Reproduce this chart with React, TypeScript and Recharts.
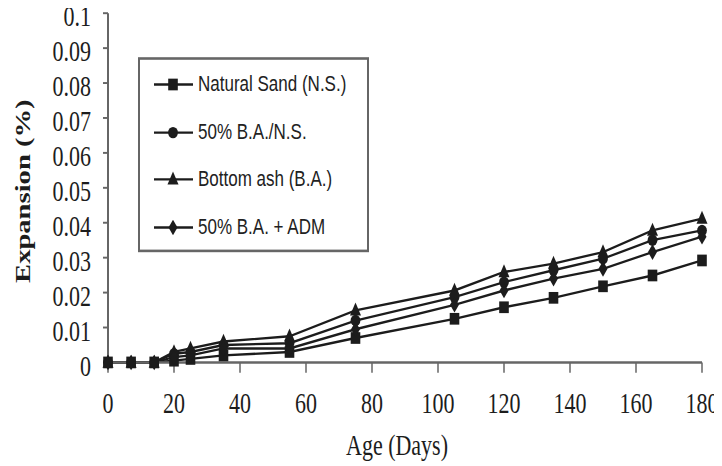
import React from 'react';
import { LineChart, Line, XAxis, YAxis, Legend, Label } from 'recharts';

// Age (days) at which expansion was measured
const days = [0, 7, 14, 20, 25, 35, 55, 75, 105, 120, 135, 150, 165, 180];
// Expansion (%) per series
const naturalSand = [0, 0, 0, 0.0005, 0.001, 0.002, 0.003, 0.007, 0.0125, 0.0158, 0.0185, 0.0218, 0.0249, 0.0292];
const baNs = [0, 0, 0, 0.0025, 0.003, 0.005, 0.0055, 0.012, 0.0187, 0.023, 0.0264, 0.0297, 0.035, 0.0378];
const bottomAsh = [0, 0, 0, 0.003, 0.004, 0.006, 0.0075, 0.0149, 0.0206, 0.0259, 0.0283, 0.0316, 0.0378, 0.0412];
const baAdm = [0, 0, 0, 0.0015, 0.002, 0.004, 0.004, 0.0095, 0.0165, 0.0206, 0.024, 0.0268, 0.0316, 0.036];

const xTicks = [0, 20, 40, 60, 80, 100, 120, 140, 160, 180];
const yTicks = [0, 0.01, 0.02, 0.03, 0.04, 0.05, 0.06, 0.07, 0.08, 0.09, 0.1];

const seriesKeys = ['ns', 'bans', 'ba', 'adm'];
const seriesNames = ['Natural Sand (N.S.)', '50% B.A./N.S.', 'Bottom ash (B.A.)', '50% B.A. + ADM'];
const seriesMarkers = ['square', 'circle', 'triangle', 'diamond'];

const data = days.map((d, i) => ({
  day: d,
  ns: naturalSand[i],
  bans: baNs[i],
  ba: bottomAsh[i],
  adm: baAdm[i],
}));

const STRETCH = 1.3;
const W = 714;
const H = 358.5;
const INK = '#1c1c1c';
const AXIS = '#666';

function Marker({ kind, cx, cy }: { kind: string; cx: number; cy: number }) {
  if (cx == null || cy == null || isNaN(cx) || isNaN(cy)) return null;
  if (kind === 'square') {
    return <rect x={cx - 4.8} y={cy - 4.5} width={9.6} height={9} fill={INK} />;
  }
  if (kind === 'circle') {
    return <ellipse cx={cx} cy={cy} rx={4.9} ry={4.4} fill={INK} />;
  }
  if (kind === 'triangle') {
    return <polygon points={`${cx},${cy - 6} ${cx + 5.5},${cy + 4} ${cx - 5.5},${cy + 4}`} fill={INK} />;
  }
  return <polygon points={`${cx},${cy - 6} ${cx + 4.5},${cy} ${cx},${cy + 6} ${cx - 4.5},${cy}`} fill={INK} />;
}

const renderLegend = () => (
  <div
    style={{
      boxSizing: 'border-box',
      width: 231,
      height: 150,
      border: `2px solid ${AXIS}`,
      background: '#fff',
      paddingTop: 1,
      fontFamily: '"Liberation Sans", Arial, sans-serif',
      fontSize: 17,
      color: '#222',
    }}
  >
    {seriesNames.map((name, i) => (
      <div key={name} style={{ display: 'flex', alignItems: 'center', height: 36.6 }}>
        <svg width={41} height={14} style={{ marginLeft: 14, flex: 'none' }}>
          <line x1={0} y1={7} x2={39} y2={7} stroke={INK} strokeWidth={1.8} />
          <Marker kind={seriesMarkers[i]} cx={19} cy={7} />
        </svg>
        <span style={{ marginLeft: 3, whiteSpace: 'nowrap' }}>{name}</span>
      </div>
    ))}
  </div>
);

const serif = '"Liberation Serif", "Times New Roman", serif';
const xTickStyle = { fontSize: 22, fill: INK, fontFamily: serif };
const yTickStyle = { fontSize: 22, fill: INK, fontFamily: serif, dy: 2.3 };

export default function App() {
  return (
    <div style={{ width: W, height: H * STRETCH, marginTop: -8 }}>
      <style>{`svg.recharts-surface { overflow: visible !important; }`}</style>
      <div style={{ width: W, height: H, transform: `scaleY(${STRETCH})`, transformOrigin: '0 0' }}>
        <LineChart
          width={W}
          height={H}
          data={data}
          margin={{ top: 10.15, right: 20, bottom: 19.7, left: 0 }}
        >
          <XAxis
            dataKey="day"
            type="number"
            domain={[0, 180]}
            ticks={xTicks}
            interval={0}
            height={60}
            tick={xTickStyle}
            tickSize={8}
            tickMargin={15}
            axisLine={{ stroke: AXIS, strokeWidth: 2 }}
            tickLine={{ stroke: AXIS, strokeWidth: 1.5 }}
          >
            <Label
              value="Age (Days)"
              position="bottom"
              offset={-4.1}
              dx={-8}
              style={{ fontSize: 22, fill: INK, fontFamily: serif }}
            />
          </XAxis>
          <XAxis
            xAxisId="top"
            orientation="top"
            type="number"
            domain={[0, 180]}
            height={0}
            tick={false}
            tickLine={false}
            axisLine={{ stroke: AXIS, strokeWidth: 2 }}
          />
          <YAxis
            type="number"
            domain={[0, 0.1]}
            ticks={yTicks}
            interval={0}
            width={100}
            tick={yTickStyle}
            tickSize={5}
            tickMargin={12}
            tickFormatter={(v: number) => String(v)}
            axisLine={{ stroke: AXIS, strokeWidth: 2 }}
            tickLine={{ stroke: AXIS, strokeWidth: 1.5 }}
          >
            <Label
              value="Expansion (%)"
              angle={-90}
              position="center"
              dx={-36}
              dy={2.6}
              style={{ fontSize: 22, fontWeight: 'bold', fill: INK, fontFamily: serif }}
            />
          </YAxis>
          <YAxis
            yAxisId="right"
            orientation="right"
            type="number"
            domain={[0, 0.1]}
            width={0}
            tick={false}
            tickLine={false}
            axisLine={{ stroke: AXIS, strokeWidth: 2 }}
          />
          <Legend
            layout="vertical"
            align="center"
            verticalAlign="middle"
            content={renderLegend}
            wrapperStyle={{ left: 130, top: 43.85, width: 231, height: 150 }}
          />
          {seriesKeys.map((k, i) => (
            <Line
              key={k}
              dataKey={k}
              name={seriesNames[i]}
              stroke={INK}
              strokeWidth={1.8}
              isAnimationActive={false}
              dot={(p: any) => <Marker key={`${k}-${p.index}`} kind={seriesMarkers[i]} cx={p.cx} cy={p.cy} />}
              activeDot={false}
            />
          ))}
        </LineChart>
      </div>
    </div>
  );
}
